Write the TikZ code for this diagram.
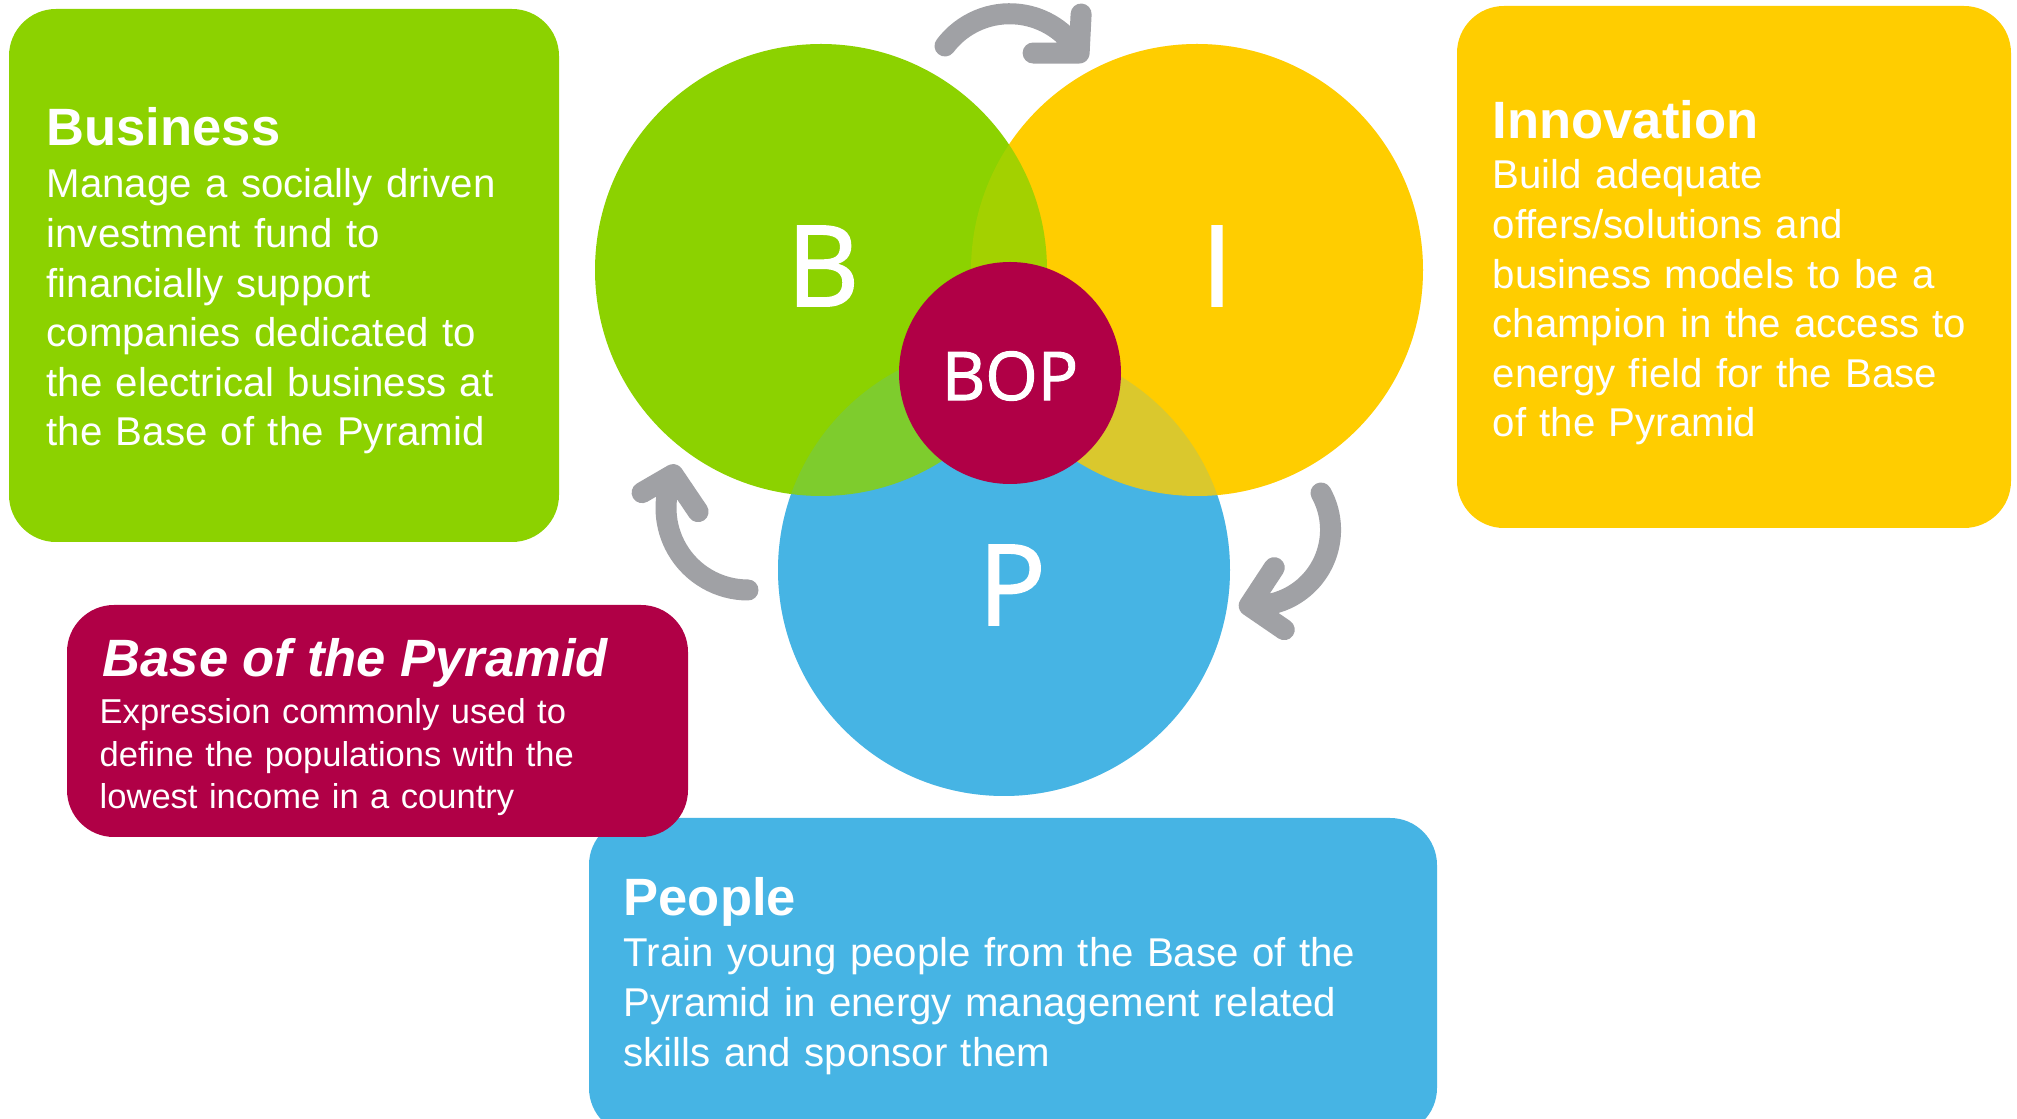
\documentclass[tikz,border=0pt]{standalone}
\usepackage{fontspec}
\setmainfont{Liberation Sans}
\newfontfamily\letterfont[FakeBold=1.6]{Open Sans}
\usepackage{pgf,tikz}
\usetikzlibrary{calc}

\definecolor{bopgreen}{RGB}{140,210,0}
\definecolor{bopyellow}{RGB}{255,205,0}
\definecolor{bopblue}{RGB}{70,180,228}
\definecolor{bopred}{RGB}{176,0,70}
\definecolor{turngrey}{RGB}{160,161,165}

\begin{document}
\begin{tikzpicture}[x=0.01cm,y=-0.01cm,
    card/.style={rounded corners=4.7mm},
    head/.style={anchor=base west,inner sep=0,text=white,
      font=\fontsize{14.94}{18}\selectfont\bfseries},
    body/.style={anchor=base west,inner sep=0,text=white,align=left,text width=6cm,
      font=\fontsize{11.43}{14.08}\selectfont},
    letter/.style={inner sep=0,text=white,font=\letterfont\fontsize{31.9}{36}\selectfont},
    turn/.style={turngrey,line width=0.21cm,line cap=round,line join=round}]
    \fill[white] (0,0) rectangle (2017,1119);
    \useasboundingbox (0,0) rectangle (2017,1119);

    % text cards
    \fill[bopblue,card] (589,818) rectangle (1437,1135);
    \fill[bopred,card] (67,605) rectangle (688,837);
    \fill[bopgreen,card] (9,9) rectangle (559,542);
    \fill[bopyellow,card] (1457,6) rectangle (2011,528);

    \node[head] (bushead) at (46,146) {Business};
    \node[body] (bustext) at (46,198) {Manage a socially driven\\
      investment fund to\\financially support\\companies dedicated to\\
      the electrical business at\\the Base of the Pyramid};

    \node[head] (innhead) at (1492,139) {Innovation};
    \node[body] (inntext) at (1492,189) {Build adequate\\offers/solutions and\\
      business models to be a\\champion in the access to\\
      energy field for the Base\\of the Pyramid};

    \node[head,font=\fontsize{14.94}{18}\selectfont\bfseries\itshape] (bophead)
      at (102,677) {Base of the Pyramid};
    \node[body,font=\fontsize{9.82}{11.95}\selectfont] (boptext) at (99,724)
      {Expression commonly used to\\define the populations with the\\
      lowest income in a country};

    \node[head] (pplhead) at (623,916) {People};
    \node[body,text width=8cm] (ppltext) at (623,967)
      {Train young people from the Base of the\\Pyramid in energy management related\\
      skills and sponsor them};

    % the three discs, lower ones shine through the overlaps
    \fill[bopblue] (1004,570) circle (226);
    \fill[bopyellow] (1197,270) circle (226);
    \fill[bopgreen] (821,270) circle (226);
    \fill[bopyellow,fill opacity=0.2] (1197,270) circle (226);
    \fill[bopblue,fill opacity=0.2] (1004,570) circle (226);
    \fill[bopred] (1010,373) circle (111);

    \node[letter] (b) at (823,266) {B};
    \node[letter] (i) at (1217,266) {I};
    \node[letter] (p) at (1012,585) {P};
    \node[letter,font=\letterfont\fontsize{19.1}{22}\selectfont] (bop) at (1010,376) {BOP};

    % turning arrows
    \draw[turn] (945,46) arc[start angle=217,end angle=329,radius=81] coordinate (t1)
      -- ++(-46,0) (t1) -- ++(2,-39);
    \draw[turn] (1321,493) arc[start angle=-29,end angle=94,radius=76] coordinate (t2)
      -- ++(25,-38) (t2) -- ++(35,24);
    \draw[turn] (748,590) arc[start angle=90,end angle=204,radius=82] coordinate (t3)
      -- ++(-31,18) (t3) -- ++(25,37);
\end{tikzpicture}
\end{document}
